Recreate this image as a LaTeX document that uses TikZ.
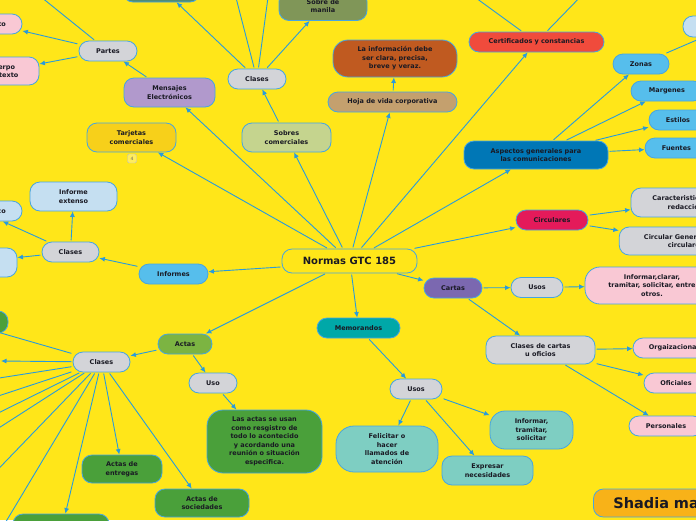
\documentclass[tikz,border=0pt]{standalone}
\usepackage{fontspec}
\setmainfont{DejaVu Sans}
\usepackage{xcolor}
\usepackage{tikz}
\usetikzlibrary{positioning,arrows.meta}

\definecolor{fondo}{RGB}{255,230,25}
\definecolor{linea}{RGB}{40,155,220}
\definecolor{borde}{RGB}{70,165,225}
\definecolor{tinta}{RGB}{25,25,35}
\definecolor{gris}{RGB}{211,212,216}
\definecolor{lavanda}{RGB}{177,153,204}
\definecolor{rosa}{RGB}{249,200,212}
\definecolor{verdeclaro}{RGB}{197,212,142}
\definecolor{oliva}{RGB}{128,150,88}
\definecolor{verdegris}{RGB}{80,140,115}
\definecolor{dorado}{RGB}{247,208,26}
\definecolor{tostado}{RGB}{196,160,110}
\definecolor{oxido}{RGB}{192,90,32}
\definecolor{rojo}{RGB}{240,75,60}
\definecolor{azuloscuro}{RGB}{0,119,182}
\definecolor{celeste}{RGB}{86,190,236}
\definecolor{azulpalido}{RGB}{197,223,241}
\definecolor{fucsia}{RGB}{228,26,90}
\definecolor{morado}{RGB}{123,104,176}
\definecolor{verdeazul}{RGB}{0,168,168}
\definecolor{menta}{RGB}{126,206,194}
\definecolor{verdemedio}{RGB}{124,180,66}
\definecolor{verde}{RGB}{74,160,58}
\definecolor{naranja}{RGB}{248,178,24}

\begin{document}
\begin{tikzpicture}[x=1pt, y=-1pt, >=Latex, line cap=round, line join=round,
	nodo/.style={draw=borde, line width=0.8pt, rounded corners=10pt, text=tinta,
		font=\fontsize{6.5}{8.5}\selectfont\bfseries, align=center,
		minimum height=20pt, inner xsep=2pt, inner ysep=6pt},
	enlace/.style={draw=linea, line width=0.9pt, -{Latex[length=5.5pt,width=5pt]}, shorten <=1.5pt}]
		\useasboundingbox (0,0) rectangle (696,520);
		\fill[fondo] (0,0) rectangle (696,520);
		\clip (0,0) rectangle (696,520);
		
		% centro
		\node[nodo, fill=fondo, minimum width=135pt, minimum height=24pt, font=\fontsize{10}{12}\selectfont\bfseries] (gtc) at (349.5,261) {Normas GTC 185};
		
		% mensajes y sobres
		\node[nodo, fill=lavanda, minimum width=91pt, minimum height=29pt] (mensajes) at (169.5,92.5) {Mensajes\\Electrónicos};
		\node[nodo, fill=gris, minimum width=58pt] (partes) at (108,51) {Partes};
		\node[nodo, fill=rosa, minimum width=58pt] (asunto) at (-7,24) {Asunto};
		\node[nodo, fill=rosa, minimum width=74pt, minimum height=28pt] (cuerpo) at (2,71) {Cuerpo\\del texto};
		\node[nodo, fill=gris, minimum width=58pt] (clasessob) at (257,79) {Clases};
		\node[nodo, fill=verdeclaro, minimum width=89pt, minimum height=29pt] (sobres) at (286.5,137.5) {Sobres\\comerciales};
		\node[nodo, fill=oliva, minimum width=88pt, minimum height=29pt] (manila) at (323,6) {Sobre de\\manila};
		\node[nodo, fill=verdegris, minimum width=77pt, minimum height=28pt] (sobrecut) at (161.5,-12) {};
		\node[nodo, fill=dorado, minimum width=89pt, minimum height=29pt] (tarjetas) at (131.5,137.5) {Tarjetas\\comerciales};
		\node[draw=black!25, fill=fondo!70!white, rounded corners=1.5pt, minimum size=9pt, inner sep=0pt,
			text=black!60, font=\fontsize{4.5}{5}\selectfont] (nota) at (132,158.5) {4};
		
		% hoja de vida y certificados
		\node[nodo, fill=tostado, minimum width=129pt] (hoja) at (392.5,102) {Hoja de vida corporativa};
		\node[nodo, fill=oxido, minimum width=124pt, minimum height=37pt, rounded corners=15pt] (info) at (395,58.5) {La información debe\\ser clara, precisa,\\breve y veraz.};
		\node[nodo, fill=rojo, minimum width=135pt] (certif) at (536.5,42) {Certificados y constancias};
		
		% aspectos generales
		\node[nodo, fill=azuloscuro, minimum width=144pt, minimum height=28pt] (aspectos) at (536,155) {Aspectos generales para\\las comunicaciones};
		\node[nodo, fill=celeste, minimum width=56pt] (zonas) at (641,64) {Zonas};
		\node[nodo, fill=celeste, minimum width=72pt] (margenes) at (667,91) {Margenes};
		\node[nodo, fill=celeste, minimum width=58pt] (estilos) at (678,120) {Estilos};
		\node[nodo, fill=celeste, minimum width=63pt] (fuentes) at (676.5,148) {Fuentes};
		\node[nodo, fill=azulpalido, minimum width=66pt, minimum height=21pt] (zonacut) at (716,26.5) {};
		
		% circulares y cartas
		\node[nodo, fill=fucsia, minimum width=72pt] (circulares) at (552,220) {Circulares};
		\node[nodo, fill=gris, minimum width=109pt, minimum height=29pt] (caract) at (685.5,202.5) {Caracteristicas de\\redacción};
		\node[nodo, fill=gris, minimum width=133pt, minimum height=28pt] (circgen) at (685.7,241) {Circular General de las\\circulares};
		\node[nodo, fill=morado, minimum width=58pt] (cartas) at (453,288) {Cartas};
		\node[nodo, fill=gris, minimum width=52pt] (usoscar) at (537,287.5) {Usos};
		\node[nodo, fill=rosa, minimum width=134pt, minimum height=37pt, rounded corners=15pt] (informar) at (652,285.5) {Informar,clarar,\\tramitar, solicitar, entre\\otros.};
		\node[nodo, fill=gris, minimum width=109pt, minimum height=28pt] (clasescar) at (540.5,350) {Clases de cartas\\u oficios};
		\node[nodo, fill=rosa, minimum width=90pt] (orga) at (678,348) {Orgaizacionales};
		\node[nodo, fill=rosa, minimum width=64pt] (oficiales) at (676,383) {Oficiales};
		\node[nodo, fill=rosa, minimum width=74pt] (personales) at (666,426) {Personales};
		\node[nodo, fill=naranja, anchor=west, text width=150pt, align=left, inner xsep=20pt, inner ysep=2pt,
			minimum height=28pt, font=\fontsize{14.5}{16}\selectfont\bfseries] (autora) at (593,503) {Shadia ma};
		
		% memorandos
		\node[nodo, fill=verdeazul, minimum width=83pt] (memo) at (358.5,328) {Memorandos};
		\node[nodo, fill=gris, minimum width=52pt] (usosmemo) at (416,389) {Usos};
		\node[nodo, fill=menta, minimum width=102pt, minimum height=46pt, rounded corners=18pt] (felicitar) at (387,449) {Felicitar o\\hacer\\llamados de\\atención};
		\node[nodo, fill=menta, minimum width=83pt, minimum height=38pt, rounded corners=15pt] (tramitar) at (531.5,430) {Informar,\\tramitar,\\solicitar};
		\node[nodo, fill=menta, minimum width=91pt, minimum height=29pt] (expresar) at (487.5,470.5) {Expresar\\necesidades};
		
		% informes
		\node[nodo, fill=celeste, minimum width=69pt] (informes) at (173.5,274) {Informes};
		\node[nodo, fill=gris, minimum width=57pt] (clasesinf) at (70.5,252) {Clases};
		\node[nodo, fill=azulpalido, minimum width=87pt, minimum height=29pt] (extenso) at (73.5,196.5) {Informe\\extenso};
		\node[nodo, fill=azulpalido, minimum width=90pt] (tecnico) at (-23,211) {Informe técnico};
		\node[nodo, fill=azulpalido, minimum width=94pt, minimum height=29pt] (infcut) at (-30,262.5) {};
		
		% actas
		\node[nodo, fill=verdemedio, minimum width=54pt] (actas) at (185,344) {Actas};
		\node[nodo, fill=gris, minimum width=57pt] (clasesact) at (101.5,362) {Clases};
		\node[nodo, fill=gris, minimum width=48pt] (uso) at (213,383) {Uso};
		\node[nodo, fill=verde, minimum width=115pt, minimum height=63pt, rounded corners=16pt] (usanactas) at (264.5,441.5) {Las actas se usan\\como resgistro de\\todo lo acontecido\\y acordando una\\reunión o situación\\especifica.};
		\node[nodo, fill=verde, minimum width=80pt, minimum height=28pt] (entregas) at (122,469) {Actas de\\entregas};
		\node[nodo, fill=verde, minimum width=94pt, minimum height=28pt] (sociedades) at (202,503) {Actas de\\sociedades};
		\node[nodo, fill=verde, minimum width=56pt, minimum height=22pt] (actacut) at (-20,322) {};
		\node[nodo, fill=verde, minimum width=96pt, minimum height=36pt] (actabajo) at (61,532) {};
		
		% extremos fuera del cuadro
		\coordinate (fpartes) at (30.6,-11.4);
		\coordinate (fclases1) at (234,-10);
		\coordinate (fclases2) at (269,-10);
		\coordinate (fcertif1) at (465,-10);
		\coordinate (fcertif2) at (587,-10);
		\coordinate (fzonas) at (720,30);
		\coordinate (fact0) at (-20,327);
		\coordinate (fact1) at (1,361);
		\coordinate (fact2) at (-20,381);
		\coordinate (fact3) at (-20,402);
		\coordinate (fact4) at (-20,422);
		\coordinate (fact5) at (-20,440);
		\coordinate (fact6) at (-20,488);
		\coordinate (fact7) at (-5,540);
		
		% desde el centro
		\draw[enlace] (gtc.150) -- (tarjetas);
		\draw[enlace] (gtc.136) -- (mensajes);
		\draw[enlace] (gtc.118) -- (sobres);
		\draw[enlace] (gtc.76) -- (hoja);
		\draw[enlace] (gtc.48) -- (certif);
		\draw[enlace] (gtc.28) -- (aspectos);
		\draw[enlace] (gtc.11) -- (circulares);
		\draw[enlace] (gtc.345) -- (cartas);
		\draw[enlace] (gtc.279) -- (memo);
		\draw[enlace] (gtc.208) -- (actas);
		\draw[enlace] (gtc.185) -- (informes);
		
		\draw[enlace] (mensajes) -- (partes);
		\draw[enlace] (partes) -- (asunto);
		\draw[enlace] (partes) -- (cuerpo);
		\draw[enlace] (partes) -- (fpartes);
		\draw[enlace] (sobres) -- (clasessob);
		\draw[enlace] (clasessob) -- (sobrecut);
		\draw[enlace] (clasessob) -- (fclases1);
		\draw[enlace] (clasessob) -- (fclases2);
		\draw[enlace] (clasessob) -- (manila);
		\draw[enlace] (hoja) -- (info);
		\draw[enlace] (certif) -- (fcertif1);
		\draw[enlace] (certif) -- (fcertif2);
		
		\draw[enlace] (aspectos) -- (zonas);
		\draw[enlace] (aspectos) -- (margenes);
		\draw[enlace] (aspectos) -- (estilos);
		\draw[enlace] (aspectos) -- (fuentes);
		\draw[enlace] (zonas) -- (fzonas);
		
		\draw[enlace] (circulares) -- (caract);
		\draw[enlace] (circulares) -- (circgen);
		\draw[enlace] (cartas) -- (usoscar);
		\draw[enlace] (usoscar) -- (informar);
		\draw[enlace] (cartas) -- (clasescar);
		\draw[enlace] (clasescar) -- (orga);
		\draw[enlace] (clasescar) -- (oficiales);
		\draw[enlace] (clasescar) -- (personales);
		
		\draw[enlace] (memo) -- (usosmemo);
		\draw[enlace] (usosmemo) -- (felicitar);
		\draw[enlace] (usosmemo) -- (tramitar);
		\draw[enlace] (usosmemo) -- (expresar);
		
		\draw[enlace] (informes) -- (clasesinf);
		\draw[enlace] (clasesinf) -- (extenso);
		\draw[enlace] (clasesinf) -- (tecnico.338);
		\draw[enlace] (clasesinf) -- (infcut);
		
		\draw[enlace] (actas) -- (clasesact);
		\draw[enlace] (actas) -- (uso);
		\draw[enlace] (uso) -- (usanactas);
		\draw[enlace] (clasesact) -- (entregas);
		\draw[enlace] (clasesact) -- (sociedades);
		\draw[enlace] (clasesact) -- (actabajo);
		\foreach \f in {fact0,fact1,fact2,fact3,fact4,fact5,fact6,fact7}
			\draw[enlace] (clasesact) -- (\f);
	\end{tikzpicture}
\end{document}
